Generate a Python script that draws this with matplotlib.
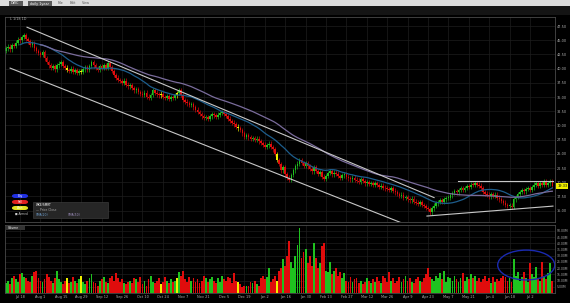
import numpy as np
import pandas as pd
import matplotlib
matplotlib.use("Agg")
import matplotlib.pyplot as plt
from matplotlib.patches import Rectangle, Ellipse, FancyBboxPatch

# daily closes, one row per two-week label interval
closes = [
    43.6, 43.9, 43.4, 44.2, 44.0, 44.6, 45.1, 45.0, 45.6, 45.9,
    45.2, 44.8, 44.2, 44.5, 43.6, 43.1, 42.8, 42.4, 42.9, 41.8,
    41.2, 40.6, 40.1, 40.4, 39.9, 40.6, 40.9, 41.2, 40.5, 40.2,
    39.8, 39.6, 40.0, 39.5, 39.7, 39.2, 39.6, 39.4, 39.9, 40.3,
    39.8, 40.5, 41.2, 40.6, 40.1, 39.8, 40.4, 40.1, 40.6, 40.2,
    41.0, 40.3, 39.6, 38.9, 38.4, 38.0, 37.8, 37.5, 37.9, 37.2,
    36.9, 37.1, 36.6, 36.2, 36.4, 35.9, 35.6, 35.4, 35.8, 35.1,
    34.8, 35.4, 36.2, 35.8, 35.5, 35.3, 35.6, 35.0, 34.9, 35.2,
    34.7, 35.0, 34.8, 35.3, 35.7, 36.2, 35.4, 34.5, 34.2, 33.9,
    33.6, 33.8, 33.2, 32.8, 32.4, 32.0, 31.6, 31.3, 31.5, 31.2,
    31.6, 32.0, 31.8, 31.5, 31.9, 32.2, 32.4, 32.0, 31.7, 31.2,
    30.8, 30.5, 30.2, 29.8, 29.5, 29.2, 28.6, 28.0, 28.3, 27.9,
    27.6, 27.8, 27.4, 27.7, 27.2, 26.9, 26.6, 26.2, 26.5, 26.8,
    26.2, 25.8, 25.0, 23.9, 23.2, 22.1, 22.6, 21.4, 20.8, 20.4,
    21.3, 22.1, 22.8, 23.3, 23.9, 23.4, 22.9, 23.4, 22.8, 22.4,
    21.9, 22.6, 22.0, 21.5, 21.8, 21.0, 20.6, 21.1, 21.6, 21.9,
    21.4, 21.7, 21.5, 21.1, 20.8, 21.2, 21.4, 21.0, 20.7, 20.5,
    20.8, 20.4, 20.3, 20.1, 20.5, 20.2, 19.8, 20.0, 19.7, 19.9,
    19.6, 19.8, 19.5, 19.2, 19.4, 19.0, 18.9, 18.8, 18.6, 18.9,
    18.5, 18.2, 17.9, 17.6, 17.8, 17.2, 17.4, 17.0, 16.8, 17.1,
    16.6, 16.4, 16.2, 16.5, 16.0, 15.8, 15.5, 15.3, 14.7, 15.4,
    15.9, 16.3, 16.5, 16.8, 16.6, 17.0, 17.2, 17.3, 17.7, 18.1,
    18.4, 18.2, 18.6, 18.9, 18.7, 19.0, 19.3, 19.2, 19.6, 19.5,
    19.8, 19.6, 19.4, 18.9, 18.3, 18.0, 17.8, 17.5, 17.9, 17.6,
    17.8, 17.3, 17.0, 16.7, 16.4, 16.0, 15.8, 15.9, 15.7, 17.0,
    17.4, 17.9, 18.3, 18.6, 18.4, 18.8, 19.0, 18.7, 19.1, 19.6,
    19.8, 19.4, 19.9, 19.5, 20.2, 19.5, 19.8, 20.1, 19.3,
]
first_open = 43.2

# volume in millions
volume = [
    8, 10, 7, 12, 14, 11, 9, 15, 16, 13,
    12, 10, 9, 14, 17, 18, 12, 10, 9, 11,
    15, 13, 10, 8, 12, 18, 11, 9, 7, 10,
    12, 8, 9, 13, 10, 8, 11, 14, 9, 7,
    10, 12, 15, 9, 8, 6, 10, 11, 13, 9,
    8, 12, 14, 10, 16, 12, 9, 11, 8, 7,
    9, 10, 8, 12, 11, 9, 13, 7, 10, 6,
    11, 14, 9, 8, 10, 12, 7, 9, 13, 10,
    8, 11, 9, 10, 12, 17, 14, 18, 11, 9,
    13, 10, 12, 9, 11, 8, 10, 14, 12, 9,
    11, 13, 10, 8, 12, 9, 14, 11, 10, 13,
    12, 8, 16, 10, 9, 7, 5, 6, 6, 6,
    9, 8, 10, 7, 6, 12, 14, 11, 13, 20,
    9, 11, 14, 10, 18, 20, 27, 22, 30, 42,
    25, 20, 30, 39, 52, 28, 33, 35, 24, 30,
    22, 40, 28, 20, 24, 38, 40, 18, 17, 25,
    15, 18, 20, 14, 17, 12, 16, 10, 9, 13,
    9, 11, 12, 8, 10, 7, 9, 12, 10, 8,
    11, 9, 13, 10, 8, 14, 12, 9, 17, 10,
    12, 8, 10, 13, 9, 11, 14, 10, 12, 9,
    8, 11, 13, 10, 9, 12, 15, 20, 13, 11,
    10, 14, 12, 16, 11, 18, 9, 13, 12, 10,
    14, 11, 9, 12, 16, 10, 13, 11, 15, 12,
    14, 10, 12, 9, 11, 14, 10, 12, 8, 13,
    9, 11, 10, 12, 14, 13, 10, 12, 9, 27,
    14, 17, 10, 13, 17, 12, 9, 24, 15, 13,
    21, 12, 10, 25, 14, 11, 16, 24, 10,
]
doji_days = [30, 37, 76, 84, 114, 133]

date_labels = ["Jul 18", "Aug 1", "Aug 15", "Aug 29", "Sep 12", "Sep 26", "Oct 10",
               "Oct 24", "Nov 7", "Nov 21", "Dec 5", "Dec 19", "Jan 2", "Jan 16",
               "Jan 30", "Feb 13", "Feb 27", "Mar 12", "Mar 26", "Apr 9", "Apr 23",
               "May 7", "May 21", "Jun 4", "Jun 18", "Jul 2"]
label_days = list(range(7, 258, 10))
price_ticks = [15.0, 17.5, 20.0, 22.5, 25.0, 27.5, 30.0, 32.5, 35.0, 37.5, 40.0, 42.5, 45.0, 47.5]
vol_ticks = [5, 10, 15, 20, 25, 30, 35, 40, 45, 50]

# hand-drawn lines on the chart (bar index, price)
upper_channel = [(10.4, 47.3), (210.0, 17.3)]
lower_channel = [(2.1, 40.1), (194.4, 12.8)]
top_line = [(221.7, 20.25), (268.3, 20.25)]
base_line = [(206.5, 14.05), (268.3, 15.8)]
last_price = 19.33

GREEN, RED, YELLOW = "#1fc21f", "#e00c0c", "#f0f000"
GRID = "#1e1e1e"
TXT = "#b0b0b0"

n = len(closes)
days = np.arange(n)
c = np.array(closes)
o = np.concatenate([[first_open], c[:-1]])
cols = np.where(c >= o, GREEN, RED).astype(object)
cols[doji_days] = YELLOW
cols = list(cols)
WICK = 0.4

fig = plt.figure(figsize=(5.7, 3.03), dpi=100, facecolor="black")
W, H = 570, 303
def fr(x, y, w, h):
    return [x / W, 1 - (y + h) / H, w / W, h / H]

ax = fig.add_axes(fr(5, 17, 550, 205))
axv = fig.add_axes(fr(5, 225, 550, 68), sharex=ax)
for a in (ax, axv):
    a.set_facecolor("black")
    for s in a.spines.values():
        s.set_color("#4a4a4a")
        s.set_linewidth(0.6)
    a.tick_params(length=0, labelsize=2.5, colors=TXT, pad=1.2)
    a.set_xticks(label_days)
    a.grid(True, color=GRID, linewidth=0.5)
    a.set_axisbelow(True)

# candles
body_lo = np.minimum(o, c)
body_h = np.maximum(np.abs(c - o), 0.15)
ax.vlines(days, body_lo - WICK, body_lo + body_h + WICK, colors=cols, linewidth=0.45)
ax.bar(days, body_h, bottom=body_lo, width=0.8, color=cols, linewidth=0)

s = pd.Series(c)
sma20 = s.rolling(20, min_periods=1).mean()
sma50 = s.rolling(50, min_periods=1).mean()
ax.plot(days[7:], sma20[7:], color="#1d5d8c", linewidth=0.9)
ax.plot(days[17:], sma50[17:], color="#7a6c9c", linewidth=0.9)

for ln in (upper_channel, lower_channel, top_line, base_line):
    xs, ys = zip(*ln)
    ax.plot(xs, ys, color="#c8c8c8", linewidth=0.8)

ax.set_xlim(-0.4, 269.3)
ax.set_ylim(13.0, 49.1)
ax.set_yticks(price_ticks)
ax.yaxis.tick_right()
ax.set_yticklabels([f"{v:.2f}" for v in price_ticks])
ax.tick_params(axis="x", labelbottom=False)
ax.text(1.004, (last_price - 13.0) / 36.1, f"{last_price:.2f}", transform=ax.transAxes,
        fontsize=2.5, color="black", va="center", ha="left",
        bbox=dict(boxstyle="square,pad=0.25", fc=YELLOW, ec="none"))

# volume
axv.bar(days, volume, width=0.9, color=cols, linewidth=0, antialiased=False)
axv.set_ylim(0, 54.7)
axv.set_yticks(vol_ticks)
axv.yaxis.tick_right()
axv.set_yticklabels([f"{v:.2f}M" for v in vol_ticks], fontsize=2.2)
axv.set_xticklabels(date_labels)
axv.add_patch(Ellipse((255.2, 22.5), 28, 24, fill=False, edgecolor="#1a2ab0", linewidth=1.0))

# UI chrome
fig.patches.append(Rectangle((0, 1 - 6 / H), 1, 6 / H, transform=fig.transFigure,
                             fc="#dcdcdc", ec="none"))
fig.patches.append(Rectangle((0, 1 - 15 / H), 1, 9 / H, transform=fig.transFigure,
                             fc="#141414", ec="none"))
for x0, w, t in ((9, 14, "DWC"), (28, 24, "daily 1year")):
    fig.patches.append(Rectangle((x0 / W, 1 - 6 / H), w / W, 5 / H, transform=fig.transFigure,
                                 fc="#5a5a5a", ec="none"))
    fig.text((x0 + 2) / W, 1 - 3.5 / H, t, fontsize=2.4, color="white", va="center")
for x0, t in ((58, "File"), (70, "Edit"), (82, "View")):
    fig.text(x0 / W, 1 - 3.5 / H, t, fontsize=2.4, color="#555555", va="center")
fig.text(10 / W, 1 - 19 / H, "L 1/18 1D", fontsize=2.4, color=TXT, va="center")

for y0, col, t in ((194, "#2030e0", "Buy"), (200, "#e02020", "Sell"), (206, "#e0e020", "Alert")):
    fig.patches.append(FancyBboxPatch((12 / W, 1 - (y0 + 4) / H), 16 / W, 4 / H,
                                      boxstyle="round,pad=0,rounding_size=0.006",
                                      transform=fig.transFigure, fc=col, ec="none"))
    fig.text(20 / W, 1 - (y0 + 2) / H, t, fontsize=2, color="white", ha="center", va="center")
fig.text(15 / W, 1 - 214 / H, "\u25a0 Armed", fontsize=2, color="#cccccc", va="center")

fig.patches.append(Rectangle((33 / W, 1 - 218 / H), 75 / W, 16 / H, transform=fig.transFigure,
                             fc="#262626", ec="#444444", linewidth=0.4))
fig.text(36 / W, 1 - 205 / H, "WKE/SMRT", fontsize=2.2, color="white", va="center")
fig.text(36 / W, 1 - 210 / H, "\u2014 Price Close", fontsize=2.2, color="#aaaaaa", va="center")
fig.text(36 / W, 1 - 215 / H, "SMA(20)", fontsize=2.2, color="#6fa0d0", va="center")
fig.text(68 / W, 1 - 215 / H, "SMA(50)", fontsize=2.2, color="#a090c0", va="center")

fig.patches.append(Rectangle((5 / W, 1 - 230 / H), 20 / W, 4.5 / H, transform=fig.transFigure,
                             fc="#333333", ec="none"))
fig.text(8 / W, 1 - 228 / H, "Volume", fontsize=2.2, color="white", va="center")

fig.savefig("out.png", dpi=100, facecolor="black")
